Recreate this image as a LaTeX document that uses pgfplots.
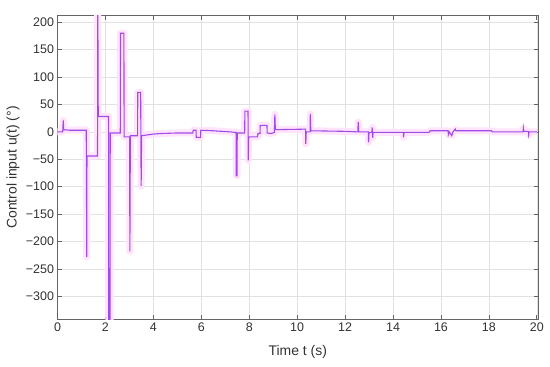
\documentclass[border=0pt]{standalone}
\usepackage{fontspec}
\setmainfont{Liberation Sans}
\usepackage{pgfplots}
\pgfplotsset{compat=1.18}
\definecolor{uline}{RGB}{160,75,230}
\definecolor{uband}{RGB}{255,228,252}
\definecolor{axgray}{RGB}{100,100,100}
\definecolor{gridgray}{RGB}{225,225,225}
\definecolor{txt}{RGB}{50,50,50}
\begin{document}
\begin{tikzpicture}
\begin{axis}[
  scale only axis,
  width=480.5bp, height=303.6bp,
  xmin=0, xmax=20.05, ymin=-342, ymax=212,
  xtick={0,2,...,20},
  ytick={-300,-250,-200,-150,-100,-50,0,50,100,150,200},
  yticklabels={−300,−250,−200,−150,−100,−50,0,50,100,150,200},
  /pgf/number format/assume math mode=true,
  tick label style={font=\fontsize{12.5}{14}\selectfont, text=txt},
  label style={font=\fontsize{14}{16}\selectfont, text=txt},
  xlabel={Time t (s)},
  ylabel={Control input u(t) (°)},
  xlabel style={at={(axis description cs:0.5,-0.108)}, anchor=center},
  ylabel style={at={(axis description cs:-0.0926,0.5)}, anchor=center, rotate=0},
  grid=major,
  major grid style={gridgray, line width=0.5bp},
  axis line style={axgray, line width=0.7bp},
  tick style={axgray, line width=0.7bp},
  tick align=inside,
  major tick length=4.5bp,
  xtick pos=both, ytick pos=both,
  xticklabel pos=lower, yticklabel pos=left,
]
\pgfplotstableread{
t u
0 0
0.2 0
0.22 2
0.24 21
0.26 4
0.5 3
1.2 3
1.22 -228
1.23 -44
1.67 -44
1.68 260
1.70 28
2.13 28
2.14 -400
2.19 -400
2.20 -2
2.62 -2
2.63 180
2.77 180
2.78 -9
3.01 -9
3.02 -218
3.04 -7
3.34 -7
3.35 72
3.47 72
3.48 -9
3.49 -99
3.51 -7
4.0 -4
4.3 -3
5.0 -2
5.65 -2
5.66 3
5.78 3
5.79 -10
5.97 -10
5.98 3
6.5 2
7.2 0
7.45 -1
7.46 -80
7.49 -80
7.50 -2
7.81 -2
7.82 38
7.95 38
7.96 -52
7.98 -9
8.35 -9
8.36 -3
8.45 -3
8.46 12
8.74 12
8.75 -2
8.9 -3
9.05 -1
9.07 32
9.09 4
10.35 5
10.36 -22
10.38 0
10.54 0
10.55 33
10.57 2
12.0 1
12.53 0
12.55 18
12.57 0
12.97 0
12.98 -19
13.0 -1
13.12 -1
13.13 8
13.15 -11
13.17 -1
14.43 -1
14.44 -10
14.46 -1
15.5 -1
15.55 2
16.3 2
16.31 -5
16.35 0
16.45 -7
16.5 0
16.6 5
16.62 2
18.1 2
18.15 0
19.43 0
19.44 7
19.46 1
19.65 1
19.66 -5
19.68 0
20 0
}\udata
\addplot[uband, line width=7bp, line join=round, line cap=butt] table[x=t,y=u] {\udata};
\addplot[uline, line width=1.1bp] table[x=t,y=u] {\udata};
\end{axis}
\pgfresetboundingbox
\path[use as bounding box] ([shift={(-57.5bp,-47.7bp)}]current axis.south west) rectangle ([shift={(12bp,15.7bp)}]current axis.north east);
\end{tikzpicture}
\end{document}
